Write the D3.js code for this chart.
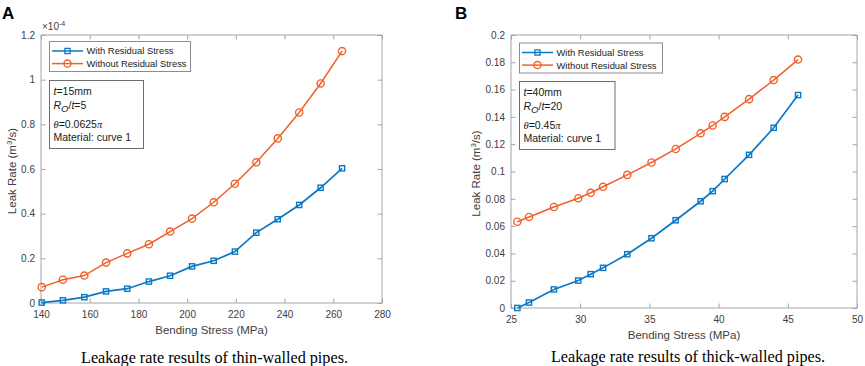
<!DOCTYPE html>
<html>
<head>
<meta charset="utf-8">
<script src="https://cdn.jsdelivr.net/npm/d3@7"></script>
<style>
  body { margin: 0; background: #fff; }
  svg { display: block; font-family: "Liberation Sans", Arial, sans-serif; }
</style>
</head>
<body>
<svg width="865" height="366"></svg>
<script>
// thin-walled pipes (leak rate in units of 1e-4 m^3/s)
const stressThin = [140.3, 149, 157.8, 166.7, 175.4, 184.3, 193, 202, 210.9, 219.6, 228.4, 237.2, 246, 254.8, 263.6];
const leakThinWith = [0.002, 0.012, 0.026, 0.052, 0.064, 0.096, 0.122, 0.164, 0.189, 0.23, 0.315, 0.375, 0.439, 0.516, 0.603];
const leakThinWithout = [0.071, 0.104, 0.123, 0.181, 0.222, 0.263, 0.32, 0.378, 0.451, 0.534, 0.63, 0.737, 0.853, 0.983, 1.128];

// thick-walled pipes
const stressThick = [25.46, 26.3, 28.1, 29.86, 30.76, 31.65, 33.4, 35.15, 36.9, 38.7, 39.57, 40.44, 42.2, 43.98, 45.74];
const leakThickWith = [0, 0.004, 0.0136, 0.0201, 0.0248, 0.0294, 0.0394, 0.0511, 0.0643, 0.0782, 0.0856, 0.0945, 0.1122, 0.132, 0.156];
const leakThickWithout = [0.0632, 0.0667, 0.074, 0.0804, 0.0844, 0.0888, 0.0975, 0.1066, 0.1165, 0.128, 0.1337, 0.140, 0.153, 0.167, 0.182];

const thinXTicks = [140, 160, 180, 200, 220, 240, 260, 280];
const thinYTicks = [0, 0.2, 0.4, 0.6, 0.8, 1, 1.2];
const thickXTicks = [25, 30, 35, 40, 45, 50];
const thickYTicks = [0, 0.02, 0.04, 0.06, 0.08, 0.1, 0.12, 0.14, 0.16, 0.18, 0.2];

const seriesNames = ["With Residual Stress", "Without Residual Stress"];
const captions = ["Leakage rate results of thin-walled pipes.", "Leakage rate results of thick-walled pipes."];

const blue = "#0a78c4";
const orange = "#f2602a";
const axisGray = "#a6a6a6";
const textGray = "#404040";

const svg = d3.select("svg");

function drawPanel(p) {
  const x = d3.scaleLinear().domain(p.xDomain).range([p.left, p.right]);
  const y = d3.scaleLinear().domain(p.yDomain).range([p.bottom, p.top]);
  const g = svg.append("g");

  // axes, MATLAB style: ticks inside, box on
  const styleAxis = sel => {
    sel.select(".domain").remove();
    sel.selectAll(".tick line").attr("stroke", axisGray);
    sel.selectAll(".tick text").attr("fill", textGray).style("font-size", "10px")
      .style("font-family", "Liberation Sans, Arial, sans-serif");
  };
  g.append("g").attr("transform", `translate(0,${p.bottom})`)
    .call(d3.axisBottom(x).tickValues(p.xTicks).tickSizeInner(-4.5).tickSizeOuter(0).tickPadding(8).tickFormat(d3.format("")))
    .call(styleAxis);
  g.append("g").attr("transform", `translate(0,${p.top})`)
    .call(d3.axisTop(x).tickValues(p.xTicks).tickSizeInner(-4.5).tickSizeOuter(0).tickFormat(""))
    .call(styleAxis);
  g.append("g").attr("transform", `translate(${p.left},0)`)
    .call(d3.axisLeft(y).tickValues(p.yTicks).tickSizeInner(-4.5).tickSizeOuter(0).tickPadding(6).tickFormat(d3.format("")))
    .call(styleAxis);
  g.append("g").attr("transform", `translate(${p.right},0)`)
    .call(d3.axisRight(y).tickValues(p.yTicks).tickSizeInner(-4.5).tickSizeOuter(0).tickFormat(""))
    .call(styleAxis);

  g.append("rect")
    .attr("x", p.left).attr("y", p.top)
    .attr("width", p.right - p.left).attr("height", p.bottom - p.top)
    .attr("fill", "none").attr("stroke", axisGray).attr("stroke-width", 1);

  const line = d3.line().x(d => x(d[0])).y(d => y(d[1]));
  const withPts = p.xs.map((v, i) => [v, p.withVals[i]]);
  const withoutPts = p.xs.map((v, i) => [v, p.withoutVals[i]]);

  g.append("path").datum(withPts).attr("d", line)
    .attr("fill", "none").attr("stroke", blue).attr("stroke-width", 1.7);
  g.append("path").datum(withoutPts).attr("d", line)
    .attr("fill", "none").attr("stroke", orange).attr("stroke-width", 1.5);

  g.selectAll(".sq").data(withPts).enter().append("rect")
    .attr("x", d => x(d[0]) - 2.6).attr("y", d => y(d[1]) - 2.6)
    .attr("width", 5.2).attr("height", 5.2)
    .attr("fill", "none").attr("stroke", blue).attr("stroke-width", 1.4);
  g.selectAll(".ci").data(withoutPts).enter().append("circle")
    .attr("cx", d => x(d[0])).attr("cy", d => y(d[1])).attr("r", 3.6)
    .attr("fill", "none").attr("stroke", orange).attr("stroke-width", 1.4);

  // exponent label
  if (p.exponent) {
    const t = g.append("text").attr("x", p.left + 1).attr("y", p.top - 5)
      .attr("fill", textGray).style("font-size", "10px");
    t.append("tspan").text("\u00d710");
    t.append("tspan").attr("dy", -4).style("font-size", "7px").text(p.exponent);
  }

  // axis titles
  g.append("text").attr("x", (p.left + p.right) / 2).attr("y", p.bottom + 31)
    .attr("text-anchor", "middle").attr("fill", textGray).style("font-size", "11.5px")
    .text("Bending Stress (MPa)");
  const yl = g.append("text")
    .attr("transform", `translate(${p.yLabelX},${(p.top + p.bottom) / 2 + 2}) rotate(-90)`)
    .attr("text-anchor", "middle").attr("fill", textGray).style("font-size", "11.5px");
  yl.append("tspan").text("Leak Rate (m");
  yl.append("tspan").attr("dy", -4).style("font-size", "8px").text("3");
  yl.append("tspan").attr("dy", 4).text("/s)");

  // legend
  const lg = g.append("g").attr("transform", `translate(${p.legend[0]},${p.legend[1]})`);
  lg.append("rect").attr("width", p.legendW).attr("height", 30)
    .attr("fill", "#fff").attr("stroke", "#8c8c8c").attr("stroke-width", 1);
  [[blue, "sq"], [orange, "ci"]].forEach((s, i) => {
    const cy = 9.5 + i * 12.6;
    lg.append("line").attr("x1", 2.5).attr("x2", 33.5).attr("y1", cy).attr("y2", cy)
      .attr("stroke", s[0]).attr("stroke-width", 1.5);
    if (s[1] === "sq") {
      lg.append("rect").attr("x", 18 - 2.6).attr("y", cy - 2.6).attr("width", 5.2).attr("height", 5.2)
        .attr("fill", "none").attr("stroke", s[0]).attr("stroke-width", 1.3);
    } else {
      lg.append("circle").attr("cx", 18).attr("cy", cy).attr("r", 3.6)
        .attr("fill", "none").attr("stroke", s[0]).attr("stroke-width", 1.3);
    }
    lg.append("text").attr("x", 37).attr("y", cy + 3.4).attr("fill", "#1a1a1a")
      .style("font-size", "9.4px").text(seriesNames[i]);
  });

  // annotation box
  const ab = g.append("g").attr("transform", `translate(${p.note[0]},${p.note[1]})`);
  ab.append("rect").attr("width", p.noteW).attr("height", 68)
    .attr("fill", "#fff").attr("stroke", "#6e6e6e").attr("stroke-width", 1);
  const fs = "10.5px";
  const t1 = ab.append("text").attr("x", 4).attr("y", 14).style("font-size", fs).attr("fill", "#1a1a1a");
  t1.append("tspan").style("font-style", "italic").text("t");
  t1.append("tspan").text("=" + p.thick);
  const t2 = ab.append("text").attr("x", 4).attr("y", 28.5).style("font-size", fs).attr("fill", "#1a1a1a");
  t2.append("tspan").style("font-style", "italic").text("R");
  t2.append("tspan").attr("dy", 3).style("font-style", "italic").style("font-size", "9.5px").text("O");
  t2.append("tspan").attr("dy", -3).text("/");
  t2.append("tspan").style("font-style", "italic").text("t");
  t2.append("tspan").text("=" + p.ratio);
  const t3 = ab.append("text").attr("x", 4).attr("y", 47).style("font-size", fs).attr("fill", "#1a1a1a");
  t3.append("tspan").style("font-style", "italic").style("font-family", "Liberation Serif, serif").text("\u03b8");
  t3.append("tspan").text("=" + p.theta);
  t3.append("tspan").style("font-style", "italic").style("font-family", "Liberation Serif, serif").text("\u03c0");
  ab.append("text").attr("x", 4).attr("y", 60.5).style("font-size", fs).attr("fill", "#1a1a1a")
    .text("Material: curve 1");

  // panel letter
  g.append("text").attr("x", p.letterX).attr("y", 18.5)
    .style("font-size", "17px").style("font-weight", "bold").attr("fill", "#000")
    .text(p.letter);

  // caption
  g.append("text").attr("x", p.captionX).attr("y", p.captionY)
    .attr("text-anchor", "middle").attr("fill", "#000")
    .style("font-family", "Liberation Serif, 'Times New Roman', serif").style("font-size", "16.2px")
    .text(p.caption);
}

drawPanel({
  left: 41, right: 382, top: 35, bottom: 303,
  xDomain: [140, 280], yDomain: [0, 1.2],
  xTicks: thinXTicks, yTicks: thinYTicks,
  xs: stressThin, withVals: leakThinWith, withoutVals: leakThinWithout,
  exponent: "-4", yLabelX: 16,
  legend: [49.5, 41.5], legendW: 141,
  note: [49.5, 80.5], noteW: 94, thick: "15mm", ratio: "5", theta: "0.0625",
  letter: "A", letterX: 2,
  caption: captions[0], captionX: 214.5, captionY: 362.5
});

drawPanel({
  left: 511, right: 857, top: 35, bottom: 308,
  xDomain: [25, 50], yDomain: [0, 0.2],
  xTicks: thickXTicks, yTicks: thickYTicks,
  xs: stressThick, withVals: leakThickWith, withoutVals: leakThickWithout,
  exponent: null, yLabelX: 480,
  legend: [519.5, 43], legendW: 143,
  note: [519.5, 81.5], noteW: 95.5, thick: "40mm", ratio: "20", theta: "0.45",
  letter: "B", letterX: 455,
  caption: captions[1], captionX: 688, captionY: 361.5
});
</script>
</body>
</html>
